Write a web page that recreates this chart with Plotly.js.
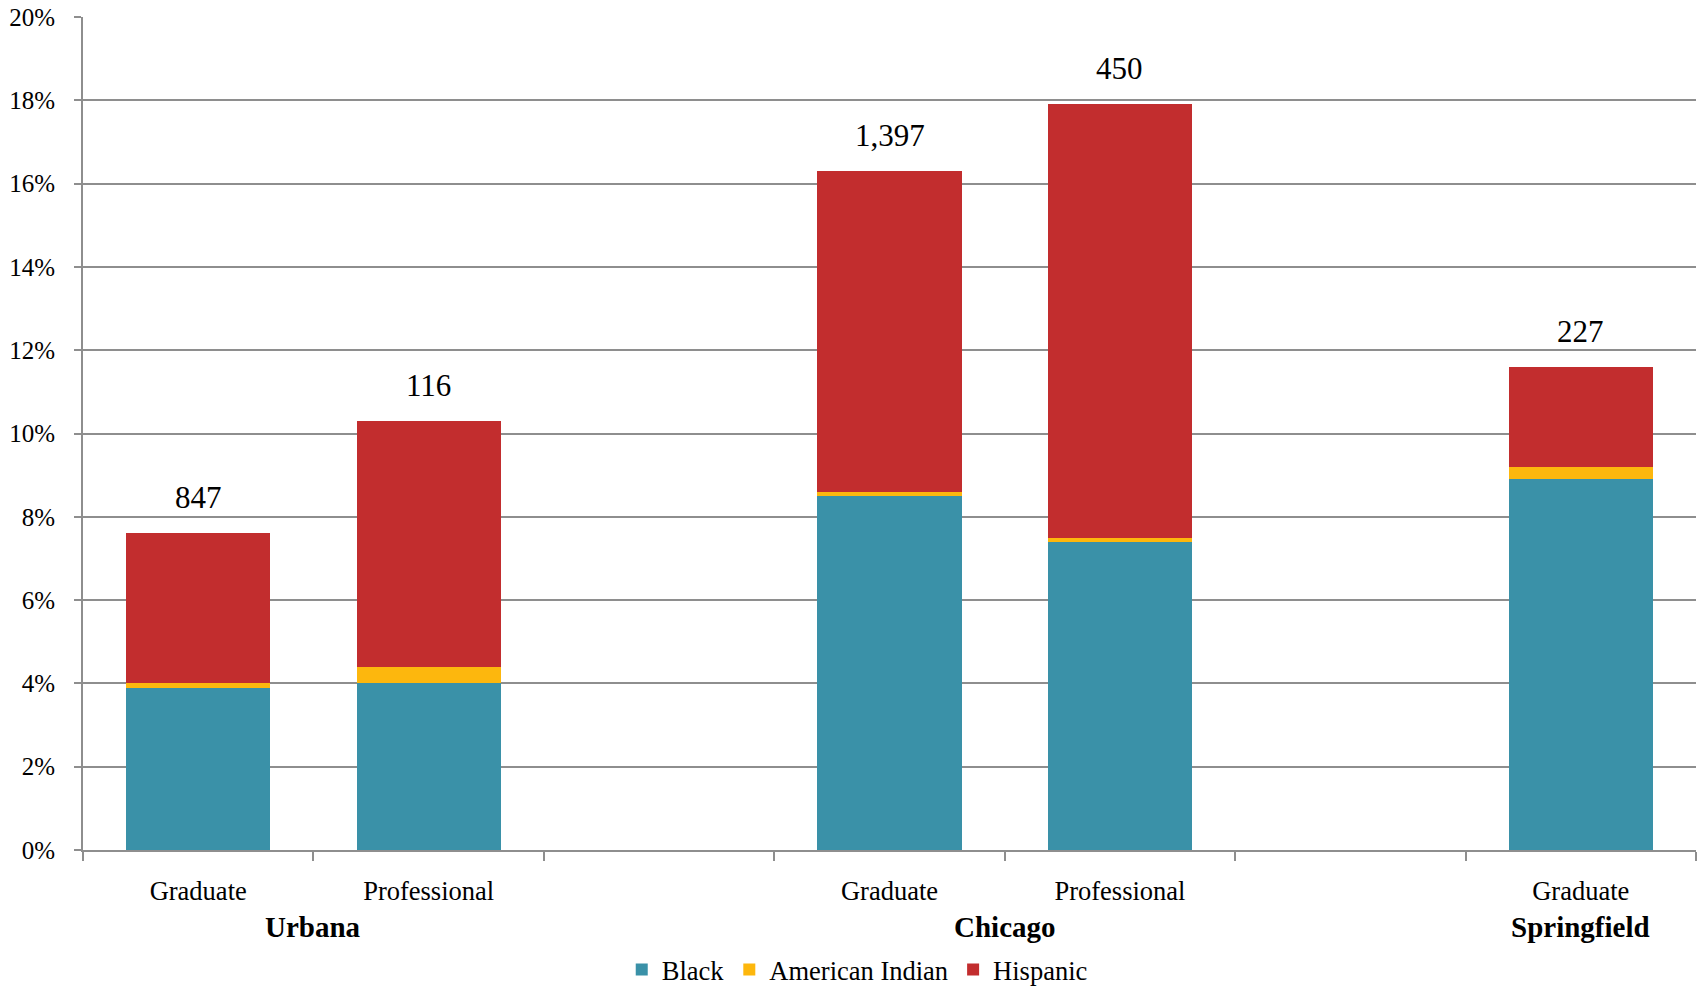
<!DOCTYPE html>
<html>
<head>
<meta charset="utf-8">
<script src="https://cdn.plot.ly/plotly-3.0.1.min.js"></script>
<style>
  html, body { margin: 0; padding: 0; background: #ffffff; }
  #chart { width: 1700px; height: 986px; }
</style>
</head>
<body>
<div id="chart"></div>
<script>
// Minority share of enrollment by campus and level (percent)
const campuses = ["Urbana", "Urbana", "Chicago", "Chicago", "Springfield"];
const levels = ["Graduate", "Professional", "Graduate", "Professional", "Graduate"];
const black = [3.9, 4.0, 8.5, 7.4, 8.9];
const americanIndian = [0.1, 0.4, 0.1, 0.1, 0.3];
const hispanic = [3.6, 5.9, 7.7, 10.4, 2.4];
const headcounts = ["847", "116", "1,397", "450", "227"];

const seriesNames = ["Black", "American Indian", "Hispanic"];
const seriesColors = ["#3a91a8", "#fdb70d", "#c22d2e"];

// Build the category slots: one per bar, with an empty slot between campuses
const keys = campuses.map((c, i) => c + " " + levels[i]);
const slots = [];
const slotText = [];
campuses.forEach((c, i) => {
  if (i > 0 && campuses[i - 1] !== c) {
    slots.push("gap" + i);
    slotText.push("");
  }
  slots.push(keys[i]);
  slotText.push(levels[i]);
});

const gridGray = "#8e8e8e";
const serif = "Liberation Serif, Times New Roman, serif";

const traces = [black, americanIndian, hispanic].map((vals, k) => ({
  type: "bar",
  name: seriesNames[k],
  x: keys,
  y: vals,
  marker: { color: seriesColors[k], line: { width: 0 } },
  hoverinfo: "x+y+name"
}));

// Headcount labels above each stacked bar
const totals = keys.map((_, i) => +(black[i] + americanIndian[i] + hispanic[i]).toFixed(2));
const countNotes = keys.map((k, i) => ({
  x: k, y: totals[i], xref: "x", yref: "y",
  text: headcounts[i], showarrow: false,
  yanchor: "bottom", yshift: 16,
  font: { family: serif, size: 31, color: "#000" }
}));

// Campus names centred under their group of bars
const uniqueCampuses = [...new Set(campuses)];
const campusNotes = uniqueCampuses.map(c => {
  const idx = slots.map((s, j) => (s.startsWith(c + " ") ? j : -1)).filter(j => j >= 0);
  const mid = idx.reduce((a, b) => a + b, 0) / idx.length;
  return {
    x: mid, y: -0.093, xref: "x", yref: "paper",
    text: "<b>" + c + "</b>", showarrow: false, yanchor: "middle",
    font: { family: serif, size: 29, color: "#000" }
  };
});

const layout = {
  width: 1700,
  height: 986,
  margin: { l: 83, r: 4, t: 17, b: 136, autoexpand: false },
  paper_bgcolor: "#ffffff",
  plot_bgcolor: "#ffffff",
  barmode: "stack",
  bargap: 0.375,
  font: { family: serif, color: "#000" },
  showlegend: true,
  legend: {
    orientation: "h",
    x: 0.48, xanchor: "center",
    y: -0.1437, yanchor: "middle",
    font: { family: serif, size: 26.5, color: "#000" },
    traceorder: "normal",
    itemclick: false
  },
  xaxis: {
    type: "category",
    categoryorder: "array",
    categoryarray: slots,
    tickmode: "array",
    tickvals: slots,
    ticktext: slotText,
    tickson: "boundaries",
    ticks: "outside",
    ticklen: 9,
    tickwidth: 2,
    tickcolor: gridGray,
    showline: true,
    linecolor: gridGray,
    linewidth: 2,
    showgrid: false,
    zeroline: false,
    automargin: false,
    ticklabelstandoff: 16,
    tickfont: { family: serif, size: 26.5, color: "#000" },
    fixedrange: true
  },
  yaxis: {
    range: [0, 20],
    dtick: 2,
    tick0: 0,
    ticksuffix: "%",
    showgrid: true,
    gridcolor: gridGray,
    gridwidth: 2,
    showline: true,
    linecolor: gridGray,
    linewidth: 2,
    ticks: "outside",
    ticklen: 7,
    tickwidth: 2,
    tickcolor: gridGray,
    zeroline: false,
    automargin: false,
    ticklabelstandoff: 14,
    tickfont: { family: serif, size: 25, color: "#000" },
    fixedrange: true
  },
  annotations: countNotes.concat(campusNotes)
};

Plotly.newPlot("chart", traces, layout, { displayModeBar: false, staticPlot: true });
</script>
</body>
</html>
